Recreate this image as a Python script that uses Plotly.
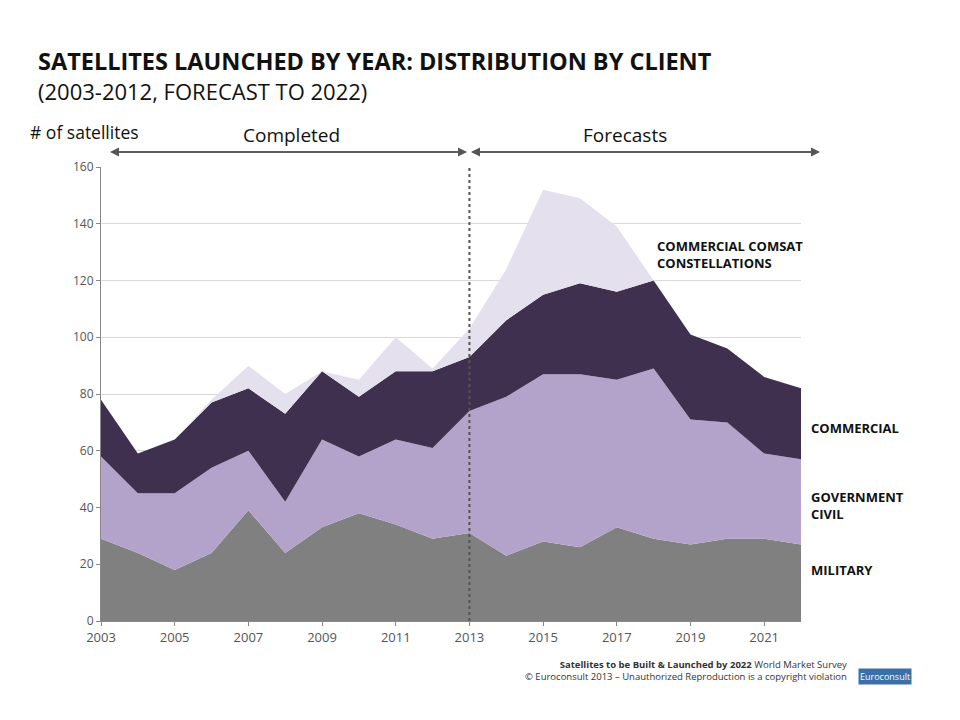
import plotly.graph_objects as go

years = list(range(2003, 2023))
military = [29, 24, 18, 24, 39, 24, 33, 38, 34, 29, 31, 23, 28, 26, 33, 29, 27, 29, 29, 27]
gov_civil = [29, 21, 27, 30, 21, 18, 31, 20, 30, 32, 43, 56, 59, 61, 52, 60, 44, 41, 30, 30]
commercial = [20, 14, 19, 23, 22, 31, 24, 21, 24, 27, 19, 27, 28, 32, 31, 31, 30, 26, 27, 25]
constellations = [0, 0, 0, 1, 8, 7, 0, 6, 12, 1, 10, 18, 37, 30, 23, 0, 0, 0, 0, 0]

series = [
    ("Military", military, "#808080"),
    ("Government civil", gov_civil, "#b3a2c9"),
    ("Commercial", commercial, "#3f3050"),
    ("Commercial comsat constellations", constellations, "#e4e0ed"),
]

fig = go.Figure()
for name, vals, col in series:
    fig.add_trace(go.Scatter(x=years, y=vals, name=name, stackgroup="one",
                             mode="lines", line=dict(width=0, color=col),
                             fillcolor=col))

font = "Open Sans, DejaVu Sans, sans-serif"
fig.update_layout(
    width=960, height=720, showlegend=False,
    paper_bgcolor="white", plot_bgcolor="white",
    margin=dict(l=93, r=167, t=159, b=107),
    font=dict(family=font, color="#333"),
    xaxis=dict(range=[2003, 2022], tickvals=list(range(2003, 2023, 2)),
               showgrid=False, ticks="outside", ticklen=4, tickcolor="#888",
               showline=True, linecolor="#888", tickfont=dict(size=13, color="#555")),
    yaxis=dict(range=[0, 160], dtick=20, showgrid=True, gridcolor="#d9d9d9",
               ticks="outside", ticklen=4, tickcolor="#888", showline=True,
               linecolor="#888", tickfont=dict(size=12, color="#555")),
)
fig.add_shape(type="line", x0=2013, x1=2013, y0=0, y1=1, yref="paper",
              line=dict(color="#555", width=2, dash="dot"))


def px(x):
    return (x - 101) / 700


def py(y):
    return (621 - y) / 454


ann = [
    (36, 61, "<b>SATELLITES LAUNCHED BY YEAR: DISTRIBUTION BY CLIENT</b>", 23.5),
    (36, 91, "(2003-2012, FORECAST TO 2022)", 22),
    (28, 132, "# of satellites", 17.5),
    (241, 135, "Completed", 19),
    (581, 135, "Forecasts", 19),
    (655, 254, "<b>COMMERCIAL COMSAT<br>CONSTELLATIONS</b>", 13),
    (809, 428, "<b>COMMERCIAL</b>", 13),
    (809, 505, "<b>GOVERNMENT<br>CIVIL</b>", 13),
    (809, 570, "<b>MILITARY</b>", 13),
]
for x, y, text, size in ann:
    fig.add_annotation(xref="paper", yref="paper", x=px(x), y=py(y), text=text,
                       showarrow=False, xanchor="left", yanchor="middle", align="left",
                       font=dict(size=size, color="#111", family=font))

# double-headed arrows above plot
for x0, x1 in [(110, 467), (471, 820)]:
    for s, e in [(x0, x1), (x1, x0)]:
        fig.add_annotation(x=px(e), y=py(152), ax=px(s), ay=py(152), xref="x domain",
                           yref="y domain", axref="x domain", ayref="y domain", text="",
                           showarrow=True, arrowhead=2, arrowsize=1.2, arrowwidth=1.5,
                           arrowcolor="#555")

fig.add_annotation(xref="paper", yref="paper", x=px(849), y=py(685),
                   text="<b>Satellites to be Built & Launched by 2022</b> World Market Survey<br>"
                        "© Euroconsult 2013 – Unauthorized Reproduction is a copyright violation",
                   showarrow=False, xanchor="right", align="right",
                   font=dict(size=9.5, color="#333", family=font))
fig.add_annotation(xref="paper", yref="paper", x=px(858), y=py(685),
                   text="Euroconsult", showarrow=False, bgcolor="#3a6fa8", xanchor="left",
                   font=dict(size=9, color="white", family=font))

fig.write_html("out.html")
